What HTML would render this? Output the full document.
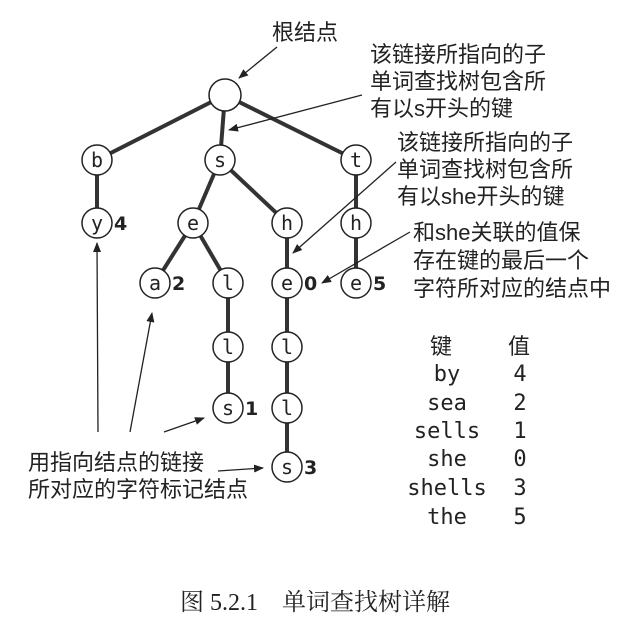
<!DOCTYPE html>
<html><head><meta charset="utf-8"><style>
html,body{margin:0;padding:0;background:#fff;}
svg{display:block}
.cj{font-family:"Liberation Sans","Noto Sans CJK SC",sans-serif;font-size:22px;fill:#222}
.n{font-family:"DejaVu Sans Mono","Liberation Mono",monospace;font-size:20px;fill:#222;text-anchor:middle}
.v{font-family:"DejaVu Sans","Liberation Sans",sans-serif;font-size:19px;font-weight:bold;fill:#222}
.m{font-family:"DejaVu Sans Mono","Liberation Mono",monospace;font-size:22px;fill:#222;text-anchor:middle}
</style></head><body>
<svg width="630" height="627" viewBox="0 0 630 627" xmlns="http://www.w3.org/2000/svg">
<defs><marker id="a" markerWidth="10" markerHeight="8" refX="9" refY="4" orient="auto" markerUnits="userSpaceOnUse"><path d="M0,0 L10,4 L0,8 z" fill="#222"/></marker></defs>
<g stroke="#333" stroke-width="4" fill="none">
<line x1="225" y1="95" x2="97" y2="160"/><line x1="225" y1="95" x2="220" y2="160"/><line x1="225" y1="95" x2="356" y2="160"/>
<line x1="97" y1="160" x2="97" y2="223"/><line x1="220" y1="160" x2="193" y2="223"/><line x1="220" y1="160" x2="287" y2="223"/><line x1="356" y1="160" x2="356" y2="283"/>
<line x1="193" y1="223" x2="155" y2="283"/><line x1="193" y1="223" x2="228" y2="283"/>
<line x1="228" y1="283" x2="228" y2="408"/><line x1="287" y1="223" x2="287" y2="467"/>
</g>
<g fill="#fff" stroke="#222" stroke-width="1.5">
<circle cx="225" cy="95" r="16"/><circle cx="97" cy="160" r="15"/><circle cx="220" cy="160" r="15"/><circle cx="356" cy="160" r="15"/>
<circle cx="97" cy="223" r="15"/><circle cx="193" cy="223" r="15"/><circle cx="287" cy="223" r="15"/><circle cx="356" cy="223" r="15"/>
<circle cx="155" cy="283" r="15"/><circle cx="228" cy="283" r="15"/><circle cx="287" cy="283" r="15"/><circle cx="356" cy="283" r="15"/>
<circle cx="228" cy="347" r="15"/><circle cx="287" cy="347" r="15"/><circle cx="228" cy="408" r="15"/><circle cx="287" cy="408" r="15"/><circle cx="287" cy="467" r="15"/>
</g>
<g class="n">
<text x="97" y="167">b</text><text x="220" y="167">s</text><text x="356" y="167">t</text>
<text x="97" y="230">y</text><text x="193" y="230">e</text><text x="287" y="230">h</text><text x="356" y="230">h</text>
<text x="155" y="290">a</text><text x="228" y="290">l</text><text x="287" y="290">e</text><text x="356" y="290">e</text>
<text x="228" y="354">l</text><text x="287" y="354">l</text><text x="228" y="415">s</text><text x="287" y="415">l</text><text x="287" y="474">s</text>
</g>
<g class="v">
<text x="114" y="230">4</text><text x="172" y="290">2</text><text x="304" y="290">0</text><text x="373" y="290">5</text><text x="245" y="415">1</text><text x="304" y="474">3</text>
</g>
<g stroke="#222" stroke-width="1.3" marker-end="url(#a)">
<line x1="277" y1="47" x2="239" y2="78"/>
<line x1="362" y1="95" x2="229" y2="130"/>
<line x1="396" y1="162" x2="293" y2="253"/>
<line x1="410" y1="232" x2="322" y2="283"/>
<line x1="98" y1="432" x2="97" y2="243"/>
<line x1="130" y1="432" x2="152" y2="313"/>
<line x1="164" y1="432" x2="204" y2="418"/>
<line x1="218" y1="471" x2="263" y2="468"/>
</g>
<g class="cj">
<text x="272" y="40">根结点</text>
<text x="370" y="62">该链接所指向的子</text><text x="370" y="89">单词查找树包含所</text><text x="370" y="116">有以s开头的键</text>
<text x="397" y="150">该链接所指向的子</text><text x="397" y="177">单词查找树包含所</text><text x="397" y="204">有以she开头的键</text>
<text x="413" y="240">和she关联的值保</text><text x="413" y="268">存在键的最后一个</text><text x="413" y="296">字符所对应的结点中</text>
<text x="28" y="470">用指向结点的链接</text><text x="28" y="497">所对应的字符标记结点</text>
<text x="430" y="354">键</text><text x="508" y="354">值</text>
</g>
<g class="m">
<text x="447" y="381">by</text><text x="520" y="381">4</text>
<text x="447" y="410">sea</text><text x="520" y="410">2</text>
<text x="447" y="438">sells</text><text x="520" y="438">1</text>
<text x="447" y="466">she</text><text x="520" y="466">0</text>
<text x="447" y="495">shells</text><text x="520" y="495">3</text>
<text x="447" y="524">the</text><text x="520" y="524">5</text>
</g>
<text x="315" y="610" text-anchor="middle" style="font-family:'Liberation Serif','Noto Serif CJK SC',serif;font-size:24px;fill:#222" xml:space="preserve">图 5.2.1    单词查找树详解</text>
</svg>
</body></html>
